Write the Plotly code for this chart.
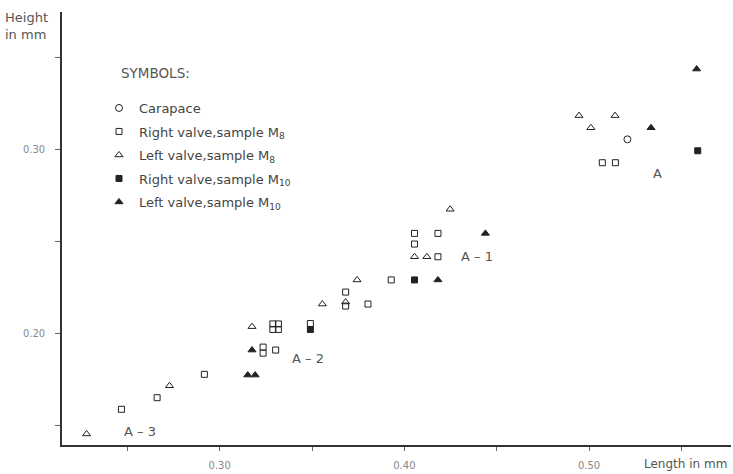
import plotly.graph_objects as go

# Carapace
carapace_x = [0.5208]
carapace_y = [0.3054]

# Right valve, sample M8
right_m8_x = [0.5072, 0.5143, 0.4055, 0.4182, 0.4055, 0.4182, 0.3929, 0.3682,
              0.3682, 0.3803, 0.3288, 0.3318, 0.3288, 0.3318, 0.3491, 0.3235,
              0.3235, 0.3303, 0.2917, 0.2661, 0.2468]
right_m8_y = [0.2927, 0.2927, 0.2543, 0.2543, 0.2485, 0.2416, 0.2290, 0.2224,
              0.2148, 0.2159, 0.2051, 0.2051, 0.2021, 0.2021, 0.2053, 0.1925,
              0.1892, 0.1909, 0.1777, 0.1650, 0.1587]

# Left valve, sample M8
left_m8_x = [0.4946, 0.5141, 0.5010, 0.4248, 0.4055, 0.4122, 0.3744, 0.3556,
             0.3682, 0.3175, 0.2728, 0.2279]
left_m8_y = [0.3183, 0.3183, 0.3117, 0.2674, 0.2416, 0.2416, 0.2290, 0.2159,
             0.2170, 0.2036, 0.1715, 0.1453]

# Right valve, sample M10
right_m10_x = [0.5589, 0.4055, 0.3491]
right_m10_y = [0.2992, 0.2290, 0.2021]

# Left valve, sample M10
left_m10_x = [0.5583, 0.5336, 0.4439, 0.4182, 0.3175, 0.3152, 0.3192]
left_m10_y = [0.3436, 0.3117, 0.2543, 0.2290, 0.1909, 0.1773, 0.1773]

# Group labels
group_labels = ["A", "A \u2013 1", "A \u2013 2", "A \u2013 3"]
group_x = [0.5372, 0.4393, 0.3476, 0.2566]
group_y = [0.2870, 0.2416, 0.1864, 0.1469]

x_ticks = [0.25, 0.30, 0.35, 0.40, 0.45, 0.50, 0.55]
x_ticktext = ["", "0.30", "", "0.40", "", "0.50", ""]
y_ticks = [0.15, 0.20, 0.25, 0.30, 0.35]
y_ticktext = ["", "0.20", "", "0.30", ""]

FONT = "DejaVu Sans"
INK = "#222222"

series = [
    ("Carapace", carapace_x, carapace_y, "circle-open", 7),
    ("Right valve,sample M<sub>8</sub>", right_m8_x, right_m8_y, "square-open", 6),
    ("Left valve,sample M<sub>8</sub>", left_m8_x, left_m8_y, "triangle-up-open", 7),
    ("Right valve,sample M<sub>10</sub>", right_m10_x, right_m10_y, "square", 6),
    ("Left valve,sample M<sub>10</sub>", left_m10_x, left_m10_y, "triangle-up", 7),
]

fig = go.Figure()
for i, (name, xs, ys, sym, size) in enumerate(series):
    fig.add_trace(go.Scatter(
        x=xs, y=ys, mode="markers", name=name, legendgroup=f"g{i}",
        marker=dict(symbol=sym, size=size, color=INK, line=dict(width=1, color=INK)),
    ))

annotations = []
for t, gx, gy in zip(group_labels, group_x, group_y):
    annotations.append(dict(x=gx, y=gy, xref="x", yref="y", text=t, showarrow=False,
                            font=dict(family=FONT, size=13, color="#555555")))

L, R, T, B, W, H = 62, 2, 12, 29, 733, 474
pw, ph = W - L - R, H - T - B

def px(xp):
    return (xp - L) / pw

def py(yp):
    return (H - B - yp) / ph

annotations += [
    dict(x=px(3), y=py(8), xref="paper", yref="paper", xanchor="left", yanchor="top",
         align="left", text="Height<br>in mm", showarrow=False,
         font=dict(family=FONT, size=13, color="#555555")),
    dict(x=px(642), y=py(464), xref="paper", yref="paper", xanchor="left", yanchor="middle",
         text="Length in mm", showarrow=False,
         font=dict(family=FONT, size=12, color="#555555")),
    dict(x=px(119), y=py(73), xref="paper", yref="paper", xanchor="left", yanchor="middle",
         text="SYMBOLS:", showarrow=False,
         font=dict(family=FONT, size=13.5, color="#555555")),
]

fig.update_layout(
    width=W, height=H,
    margin=dict(l=L, r=R, t=T, b=B, pad=0),
    paper_bgcolor="white", plot_bgcolor="white",
    font=dict(family=FONT, color="#555555"),
    showlegend=True,
    legend=dict(x=px(99), y=py(93), xanchor="left", yanchor="top",
                bgcolor="rgba(0,0,0,0)", traceorder="grouped", tracegroupgap=3.6,
                font=dict(family=FONT, size=13, color="#444444")),
    annotations=annotations,
)
fig.update_xaxes(range=[0.2146, 0.5769], showgrid=False, zeroline=False,
                 showline=True, linecolor="#333333", linewidth=1.6,
                 tickvals=x_ticks, ticktext=x_ticktext, ticks="outside", ticklen=4,
                 tickcolor="#666666", tickwidth=1, ticklabelstandoff=6,
                 tickfont=dict(family=FONT, size=10, color="#888888"))
fig.update_yaxes(range=[0.1393, 0.3746], showgrid=False, zeroline=False,
                 showline=True, linecolor="#333333", linewidth=1.6,
                 tickvals=y_ticks, ticktext=y_ticktext, ticks="outside", ticklen=5,
                 tickcolor="#666666", tickwidth=1, ticklabelstandoff=8,
                 tickfont=dict(family=FONT, size=10, color="#888888"))

fig.write_html("out.html")
